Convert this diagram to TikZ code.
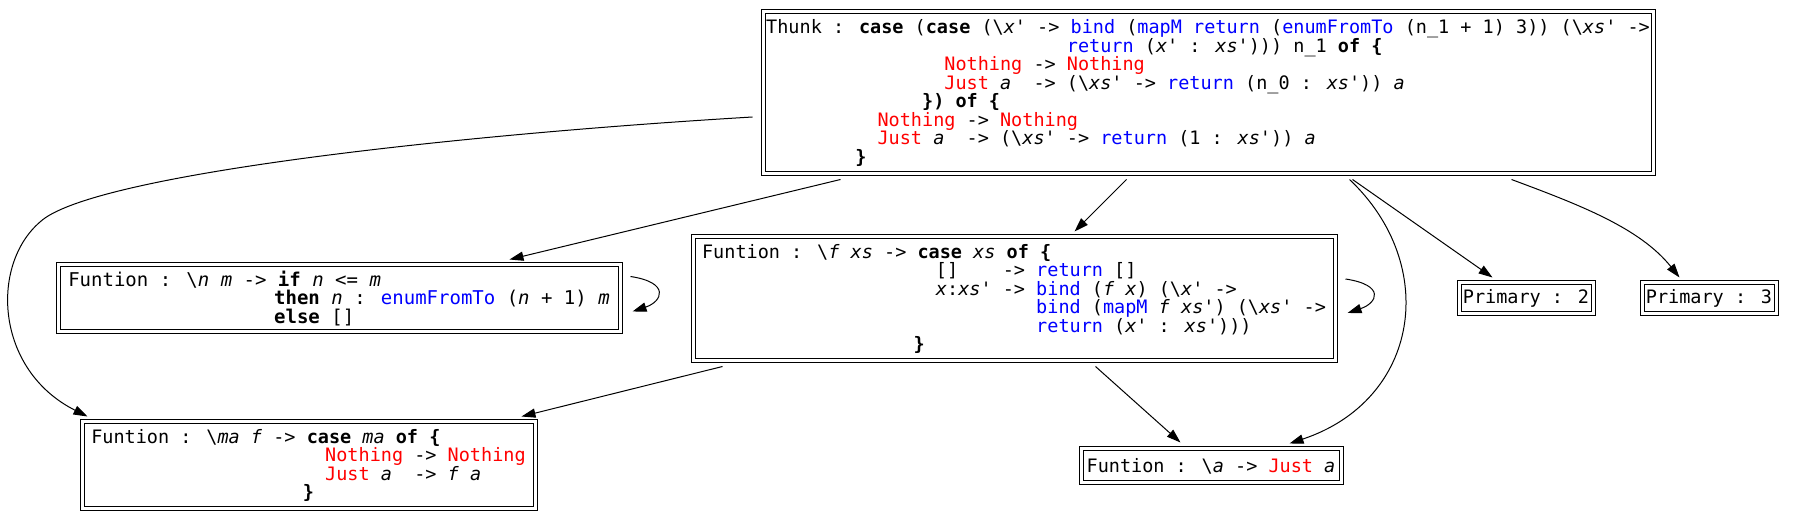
\documentclass[tikz,border=0pt]{standalone}
\usepackage{fontspec}
\usetikzlibrary{arrows.meta}
\newfontfamily\gvmono{DejaVu Sans Mono}
\definecolor{gvblue}{RGB}{0,0,255}
\definecolor{gvred}{RGB}{255,0,0}
\newcommand\kw[1]{\textbf{#1}}
\newcommand\fn[1]{\textcolor{gvblue}{#1}}
\newcommand\con[1]{\textcolor{gvred}{#1}}
\newcommand\vr[1]{\textit{#1}}
\newcommand\bsl{\textbackslash}
\newcommand\ind[1]{\hspace*{#1\fontdimen2\font}}
\tikzset{
  gv/.style={draw, double, double distance=1.5pt, line width=.5pt, align=left,
    inner sep=0pt, font=\gvmono\fontsize{9.25pt}{9.25pt}\selectfont},
  link/.style={-{Triangle[length=7pt,width=4.6pt]}, line width=.5pt}
}

\begin{document}
\begin{tikzpicture}[x=.5pt,y=-.5pt]
\useasboundingbox (0,0) rectangle (1794,523);
% thunk on top
\node[gv, minimum width=445pt, minimum height=81pt] (thunk) at (1208,93) {Thunk : \kw{case} (\kw{case} (\bsl\vr{x}' -> \fn{bind} (\fn{mapM} \fn{return} (\fn{enumFromTo} (n\_1 + 1) 3)) (\bsl\vr{xs}' ->\\
\ind{27}\fn{return} (\vr{x}' : \vr{xs}'))) n\_1 \kw{of \{}\\
\ind{16}\con{Nothing} -> \con{Nothing}\\
\ind{16}\con{Just} \vr{a}~ -> (\bsl\vr{xs}' -> \fn{return} (n\_0 : \vr{xs}')) \vr{a}\\
\ind{14}\kw{\}) of \{}\\
\ind{10}\con{Nothing} -> \con{Nothing}\\
\ind{10}\con{Just} \vr{a}~ -> (\bsl\vr{xs}' -> \fn{return} (1 : \vr{xs}')) \vr{a}\\
\ind{8}\kw{\}}};
% functions
\node[gv, font=\gvmono\fontsize{9.5pt}{9.25pt}\selectfont, minimum width=281pt, minimum height=33.5pt] (nm) at (339,298.5) {Funtion : \bsl\vr{n} \vr{m} -> \kw{if} \vr{n} <= \vr{m}\\
\ind{18}\kw{then} \vr{n} : \fn{enumFromTo} (\vr{n} + 1) \vr{m}\\
\ind{18}\kw{else} []};
\node[gv, minimum width=321pt, minimum height=62pt] (fxs) at (1014,299) {Funtion : \bsl\vr{f} \vr{xs} -> \kw{case} \vr{xs} \kw{of \{}\\
\ind{21}[]~~~ -> \fn{return} []\\
\ind{21}\vr{x}:\vr{xs}' -> \fn{bind} (\vr{f} \vr{x}) (\bsl\vr{x}' ->\\
\ind{30}\fn{bind} (\fn{mapM} \vr{f} \vr{xs}') (\bsl\vr{xs}' ->\\
\ind{30}\fn{return} (\vr{x}' : \vr{xs}')))\\
\ind{19}\kw{\}}};
\node[gv, minimum width=226.5pt, minimum height=43.5pt] (maf) at (308.5,465.5) {Funtion : \bsl\vr{ma} \vr{f} -> \kw{case} \vr{ma} \kw{of \{}\\
\ind{21}\con{Nothing} -> \con{Nothing}\\
\ind{21}\con{Just} \vr{a}~ -> \vr{f} \vr{a}\\
\ind{19}\kw{\}}};
\node[gv, minimum width=130pt, minimum height=17pt] (justa) at (1211,466) {Funtion : \bsl\vr{a} -> \con{Just} \vr{a}};
\foreach \k/\cx in {2/1526,3/1709}
  \node[gv, minimum width=67pt, minimum height=15.5pt] (prim\k) at (\cx,298.5) {Primary : \k};
% calls
\draw[link] ([xshift=-5pt,yshift=-12pt]thunk.west) .. controls (450,135) and (90,175) .. (40,222)
  .. controls (-10,265) and (-5,370) .. ([xshift=3pt,yshift=2.5pt]maf.north west);
\draw[link] ([xshift=39pt,yshift=-2.5pt]thunk.south west) -- ([xshift=226pt,yshift=2.5pt]nm.north west);
\draw[link] ([xshift=5pt,yshift=11pt]nm.east) .. controls +(20pt,-3pt) and +(15pt,5pt) .. ([xshift=6pt,yshift=-6.5pt]nm.east);
\draw[link] ([xshift=182pt,yshift=-2.5pt]thunk.south west) -- ([xshift=191pt,yshift=2.5pt]fxs.north west);
\draw[link] ([xshift=5pt,yshift=10pt]fxs.east) .. controls +(20pt,-3pt) and +(15pt,5pt) .. ([xshift=6pt,yshift=-7pt]fxs.east);
\draw[link] ([xshift=293.5pt,yshift=-2.5pt]thunk.south west) .. controls (1440,265) and (1420,400) .. ([xshift=104.5pt,yshift=2.5pt]justa.north west);
\draw[link] ([xshift=295pt,yshift=-2.5pt]thunk.south west) -- ([xshift=17pt,yshift=2.5pt]prim2.north west);
\draw[link] ([xshift=374.5pt,yshift=-2.5pt]thunk.south west) .. controls (1580,205) and (1640,228) .. ([xshift=19pt,yshift=2.5pt]prim3.north west);
\draw[link] ([xshift=15pt,yshift=-2.5pt]fxs.south west) -- ([xshift=-7pt,yshift=2.5pt]maf.north east);
\draw[link] ([xshift=201.5pt,yshift=-2.5pt]fxs.south west) -- ([xshift=50pt,yshift=3pt]justa.north west);
\end{tikzpicture}
\end{document}
